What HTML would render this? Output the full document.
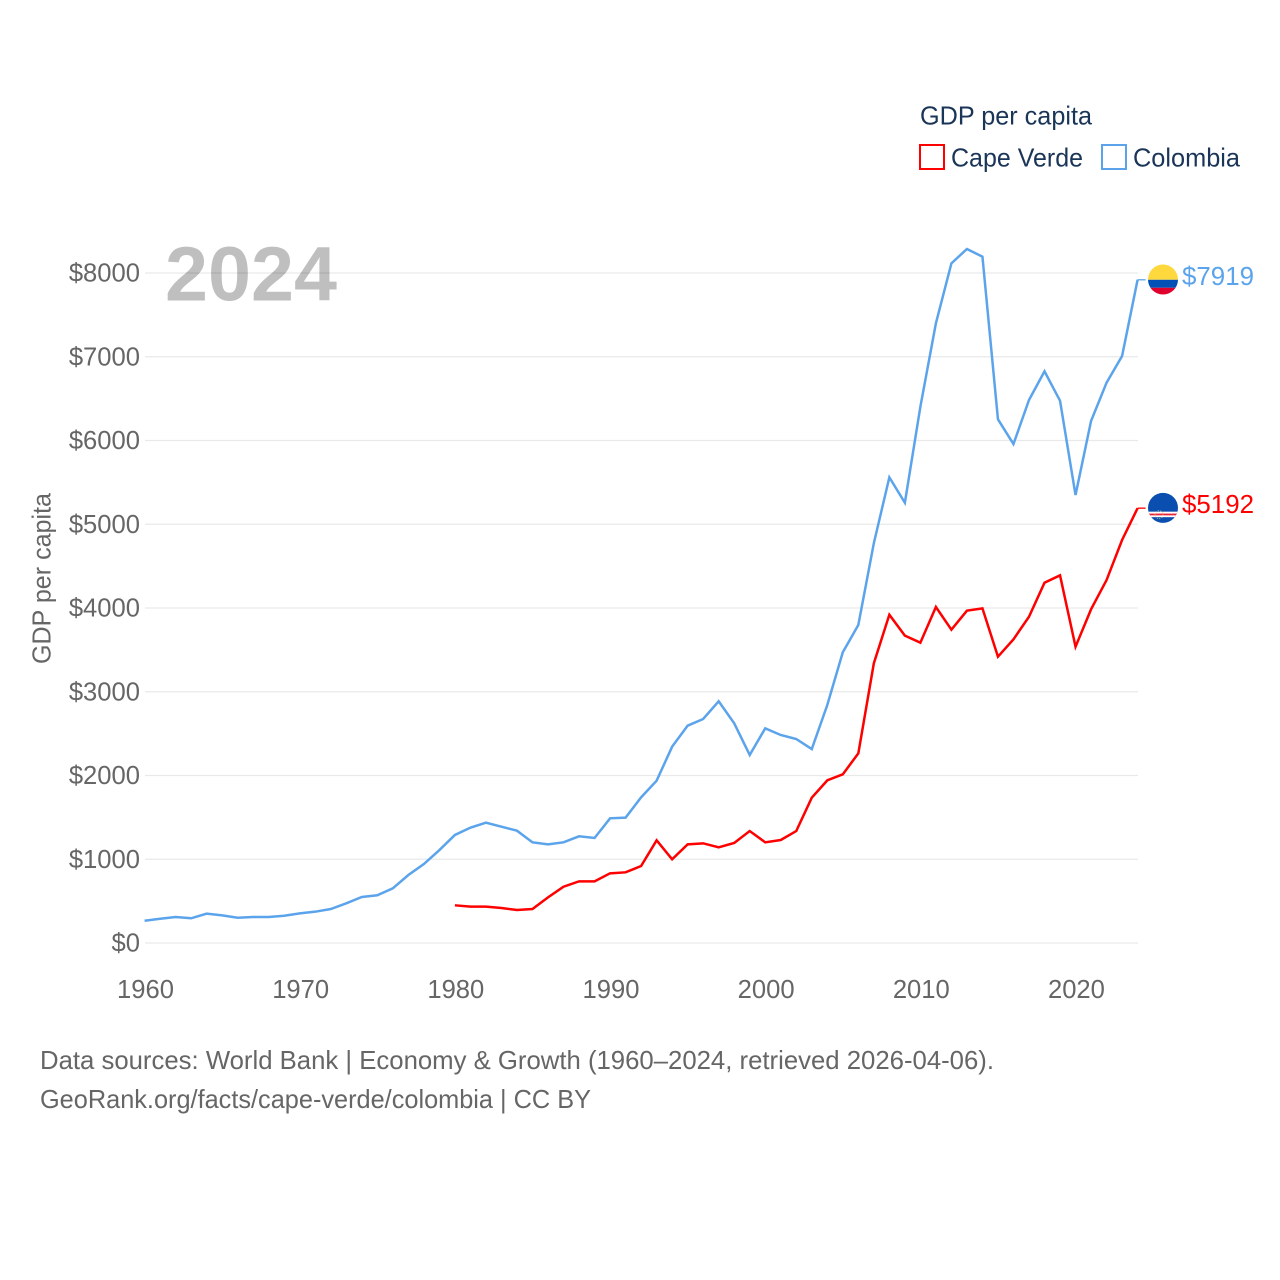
<!DOCTYPE html>
<html lang="en">
<head>
<meta charset="utf-8">
<title>GDP per capita: Cape Verde and Colombia</title>
<style>
html,body{margin:0;padding:0;background:#fff;}
#chart{display:block;width:1280px;height:1280px;font-family:"Liberation Sans",sans-serif;}
</style>
</head>
<body>
<svg id="chart" xmlns="http://www.w3.org/2000/svg" width="1280" height="1280" viewBox="0 0 1280 1280">
  <defs>
    <clipPath id="clip-colombia"><circle id="clip-colombia-circle" cx="0" cy="0" r="15"></circle></clipPath>
    <clipPath id="clip-cape-verde"><circle id="clip-cape-verde-circle" cx="0" cy="0" r="15"></circle></clipPath>
  </defs>
  <rect x="0" y="0" width="1280" height="1280" fill="#ffffff"></rect>
  <g id="grid"></g>
  <g id="y-ticks"></g>
  <g id="x-ticks"></g>
  <text x="165" y="300.5" font-size="77" font-weight="700" fill="#000000" fill-opacity="0.25" textLength="172" lengthAdjust="spacingAndGlyphs">2024</text>
  <text transform="translate(50.5,578.5) rotate(-90)" text-anchor="middle" font-size="26" fill="#666666" textLength="171" lengthAdjust="spacingAndGlyphs">GDP per capita</text>
  <g id="series"></g>
  <g id="end-markers"></g>
  <g>
    <text x="920" y="124.5" font-size="26" fill="#1a3557" textLength="172" lengthAdjust="spacingAndGlyphs">GDP per capita</text>
    <rect x="920" y="145" width="24" height="24" fill="none" stroke="#ff0000" stroke-width="2"></rect>
    <text x="951" y="166.5" font-size="26" fill="#1a3557" textLength="132" lengthAdjust="spacingAndGlyphs">Cape Verde</text>
    <rect x="1102" y="145" width="24" height="24" fill="none" stroke="#5ba4ec" stroke-width="2"></rect>
    <text x="1133" y="166.5" font-size="26" fill="#1a3557" textLength="107" lengthAdjust="spacingAndGlyphs">Colombia</text>
  </g>
  <text x="40" y="1069" font-size="26" fill="#666666" textLength="954" lengthAdjust="spacingAndGlyphs">Data sources: World Bank | Economy &amp; Growth (1960–2024, retrieved 2026-04-06).</text>
  <text x="40" y="1108" font-size="26" fill="#666666" textLength="551" lengthAdjust="spacingAndGlyphs">GeoRank.org/facts/cape-verde/colombia | CC BY</text>
</svg>
<script>
const years = [1960,1961,1962,1963,1964,1965,1966,1967,1968,1969,1970,1971,1972,1973,1974,1975,1976,1977,1978,1979,1980,1981,1982,1983,1984,1985,1986,1987,1988,1989,1990,1991,1992,1993,1994,1995,1996,1997,1998,1999,2000,2001,2002,2003,2004,2005,2006,2007,2008,2009,2010,2011,2012,2013,2014,2015,2016,2017,2018,2019,2020,2021,2022,2023,2024];
const colombiaValues = [266,290,310,295,350,330,302,310,310,326,354,374,406,474,549,570,653,812,943,1110,1290,1377,1437,1389,1341,1202,1178,1202,1274,1254,1489,1497,1739,1938,2344,2595,2675,2886,2623,2245,2563,2484,2436,2316,2842,3471,3797,4773,5560,5257,6404,7399,8115,8287,8195,6253,5958,6484,6826,6475,5349,6233,6690,7009,7919];
const capeVerdeValues = [null,null,null,null,null,null,null,null,null,null,null,null,null,null,null,null,null,null,null,null,450,434,434,418,394,406,545,672,736,736,832,844,919,1226,999,1178,1190,1142,1194,1337,1202,1230,1337,1735,1942,2014,2265,3339,3920,3670,3586,4012,3741,3968,3996,3419,3626,3896,4302,4390,3538,3984,4334,4812,5192];
const yTickValues = [0,1000,2000,3000,4000,5000,6000,7000,8000];
const yTickLabels = ["$0","$1000","$2000","$3000","$4000","$5000","$6000","$7000","$8000"];
const xTickValues = [1960,1970,1980,1990,2000,2010,2020];
const xTickLabels = ["1960","1970","1980","1990","2000","2010","2020"];

const SVG_NS = "http://www.w3.org/2000/svg";
const xScale = function (year) { return 144.6 + (year - 1960) * (1137.6 - 144.6) / 64; };
const yScale = function (value) { return 943 - value * (943 - 273) / 8000; };

function make(tag, parent, attrs) {
  const el = document.createElementNS(SVG_NS, tag);
  Object.keys(attrs).forEach(function (k) { el.setAttribute(k, attrs[k]); });
  parent.appendChild(el);
  return el;
}

const gridGroup = document.getElementById("grid");
const yTickGroup = document.getElementById("y-ticks");
const xTickGroup = document.getElementById("x-ticks");
const seriesGroup = document.getElementById("series");
const markerGroup = document.getElementById("end-markers");

yTickValues.forEach(function (v, i) {
  const line = make("line", gridGroup, {x1: 145, x2: 1138, y1: yScale(v), y2: yScale(v), stroke: "#e9e9e9", "stroke-width": 1.3});
  
  
  const label = make("text", yTickGroup, {x: 140, y: yScale(v) + 8.5, "text-anchor": "end", "font-size": 25.6, fill: "#666666"});
  
  
  label.textContent = yTickLabels[i];
});

xTickValues.forEach(function (v, i) {
  const label = make("text", xTickGroup, {x: xScale(v) + 0.9, y: 998, "text-anchor": "middle", "font-size": 25.6, fill: "#666666"});
  
  
  label.textContent = xTickLabels[i];
});

function linePath(values) {
  const parts = [];
  values.forEach(function (v, i) {
    if (v === null) { return; }
    parts.push((parts.length ? "L" : "M") + xScale(years[i]).toFixed(2) + " " + yScale(v).toFixed(2));
  });
  return parts.join(" ");
}

const colombiaLine = make("path", seriesGroup, {d: linePath(colombiaValues), fill: "none", stroke: "#5ba4ec", "stroke-width": 2.5, "stroke-linejoin": "miter"});


const capeVerdeLine = make("path", seriesGroup, {d: linePath(capeVerdeValues), fill: "none", stroke: "#ff0000", "stroke-width": 2.5, "stroke-linejoin": "miter"});



const lastColombia = colombiaValues[colombiaValues.length - 1];
const lastCapeVerde = capeVerdeValues[capeVerdeValues.length - 1];
const lastX = xScale(years[years.length - 1]);
const flagX = 1163;

function endStub(value, color, name) {
  const stub = make("line", markerGroup, {x1: lastX, x2: lastX + 8, y1: yScale(value), y2: yScale(value), stroke: color, "stroke-width": 1.3});
  
  
}
endStub(lastColombia, "#5ba4ec", "colombia-end-connector");
endStub(lastCapeVerde, "#ff0000", "cape-verde-end-connector");

function endLabel(value, color, name) {
  const label = make("text", markerGroup, {x: 1182, y: yScale(value) + 5, "font-size": 26, fill: color, textLength: 72, lengthAdjust: "spacingAndGlyphs"});
  
  
  label.textContent = "$" + value;
}
endLabel(lastColombia, "#5ba4ec", "colombia-end-value");
endLabel(lastCapeVerde, "#ff0000", "cape-verde-end-value");

const colY = yScale(lastColombia);
const colCircle = document.getElementById("clip-colombia-circle");
colCircle.setAttribute("cx", flagX);
colCircle.setAttribute("cy", colY - 0.3);
const colFlag = make("g", markerGroup, {"clip-path": "url(#clip-colombia)"});


make("rect", colFlag, {x: flagX - 15, y: colY - 16, width: 30, height: 16, fill: "#ffd83d"});
make("rect", colFlag, {x: flagX - 15, y: colY, width: 30, height: 8, fill: "#0050b5"});
make("rect", colFlag, {x: flagX - 15, y: colY + 8, width: 30, height: 8, fill: "#e0002d"});

const cvY = yScale(lastCapeVerde);
const cvCircle = document.getElementById("clip-cape-verde-circle");
cvCircle.setAttribute("cx", flagX);
cvCircle.setAttribute("cy", cvY - 0.3);
const cvFlag = make("g", markerGroup, {"clip-path": "url(#clip-cape-verde)"});


make("rect", cvFlag, {x: flagX - 15, y: cvY - 16, width: 30, height: 32, fill: "#0a4fb0"});
make("rect", cvFlag, {x: flagX - 15, y: cvY + 3.5, width: 30, height: 5.5, fill: "#ffffff"});
make("rect", cvFlag, {x: flagX - 15, y: cvY + 5.4, width: 30, height: 1.8, fill: "#e8263a"});
make("circle", cvFlag, {cx: flagX - 4, cy: cvY + 6.5, r: 4, fill: "none", stroke: "#e8d48a", "stroke-width": 1, "stroke-dasharray": "1 1.5", "stroke-opacity": 0.8});
</script>
</body>
</html>
